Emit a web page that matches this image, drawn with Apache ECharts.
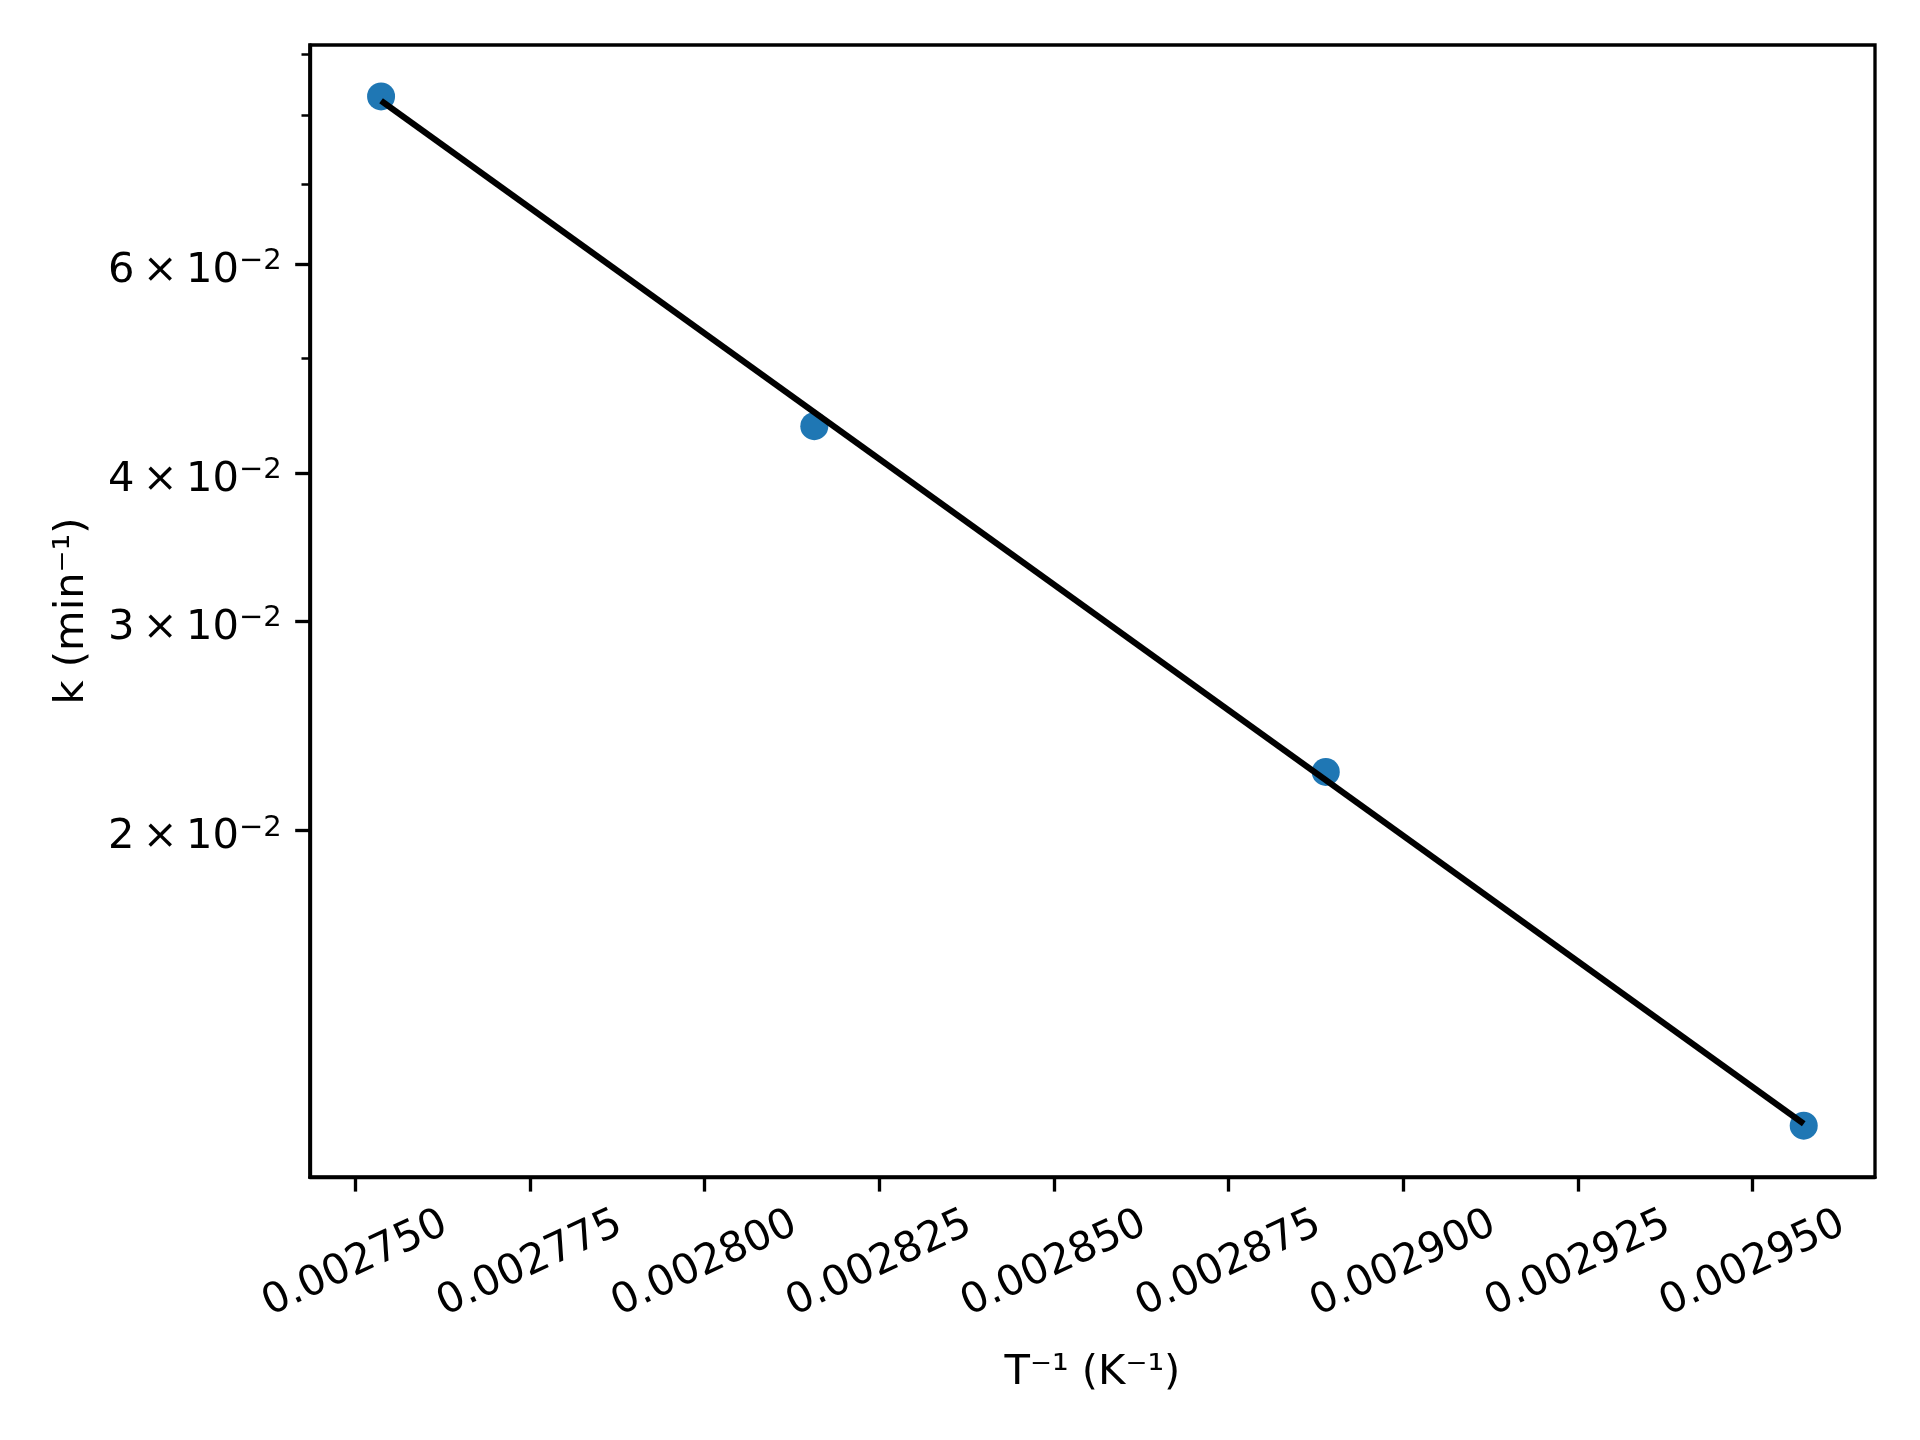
<!DOCTYPE html>
<html>
<head>
<meta charset="utf-8">
<script src="https://cdn.jsdelivr.net/npm/echarts@6.0.0/dist/echarts.min.js"></script>
<style>
html,body{margin:0;padding:0;background:#fff;}
#chart{width:1920px;height:1440px;}
</style>
</head>
<body>
<div id="chart"></div>
<script>
// Data (1/T in K^-1, k in min^-1)
const invT = [0.0027537, 0.0028157, 0.0028889, 0.0029573];
const kVals = [0.0830, 0.0438, 0.02241, 0.01129];
// Fitted line endpoints
const fitInvT = [0.0027537, 0.0029573];
const fitK = [0.0823, 0.01133];
// Axis ticks
const xTicks = [0.00275, 0.002775, 0.0028, 0.002825, 0.00285, 0.002875, 0.0029, 0.002925, 0.00295];
const yMajorTicks = [0.02, 0.03, 0.04, 0.06];
const yMinorTicks = [0.05, 0.07, 0.08, 0.09];
const xRange = [0.0027435, 0.0029675];
const yRange = [0.01022, 0.0917];

const FONT = 'DejaVu Sans';
const FS = 41.67;
const LW = 3.33;
const THIN = '\u2009';

function sciLabel(v) {
  const e = Math.floor(Math.log10(v) + 1e-9);
  const m = Math.round(v / Math.pow(10, e));
  return '{m|' + m + THIN + '×' + THIN + '10}{s|−' + Math.abs(e) + '}';
}

const chart = echarts.init(document.getElementById('chart'), null, {renderer: 'canvas'});
chart.setOption({
  animation: false,
  backgroundColor: '#ffffff',
  textStyle: {fontFamily: FONT, color: '#000'},
  grid: {
    left: 309.8, right: 45, top: 45, bottom: 263,
    show: true, borderColor: '#000', borderWidth: LW, backgroundColor: 'transparent',
    containLabel: false, outerBoundsMode: 'none'
  },
  xAxis: {
    type: 'value',
    min: xRange[0], max: xRange[1],
    splitLine: {show: false},
    axisLine: {show: true, onZero: false, lineStyle: {color: '#000', width: LW}},
    axisTick: {show: true, customValues: xTicks, length: 14.6, lineStyle: {color: '#000', width: LW}},
    axisLabel: {
      customValues: xTicks, rotate: 25, align: 'center', verticalAlign: 'middle',
      margin: 87, fontFamily: FONT, fontSize: FS, color: '#000',
      formatter: v => Number(v).toFixed(6)
    },
    name: 'T⁻¹ (K⁻¹)', nameLocation: 'middle', nameGap: 175, nameMoveOverlap: false,
    nameTextStyle: {fontFamily: FONT, fontSize: FS, color: '#000'}
  },
  yAxis: [{
    type: 'log', logBase: 10,
    min: yRange[0], max: yRange[1],
    splitLine: {show: false},
    axisLine: {show: true, onZero: false, lineStyle: {color: '#000', width: LW}},
    axisTick: {show: true, customValues: yMajorTicks, length: 14.6, lineStyle: {color: '#000', width: LW}},
    minorTick: {show: false},
    axisLabel: {
      customValues: yMajorTicks, margin: 28, color: '#000',
      padding: [14, 0, 0, 0],
      formatter: v => sciLabel(v),
      rich: {
        m: {fontFamily: FONT, fontSize: FS, lineHeight: 48, color: '#000'},
        s: {fontFamily: FONT, fontSize: 29, lineHeight: 28, verticalAlign: 'top', color: '#000'}
      }
    },
    name: 'k (min⁻¹)', nameLocation: 'middle', nameGap: 217, nameRotate: 90, nameMoveOverlap: false,
    nameTextStyle: {fontFamily: FONT, fontSize: FS, color: '#000'}
  }, {
    type: 'log', logBase: 10, position: 'left',
    min: yRange[0], max: yRange[1],
    splitLine: {show: false},
    axisLine: {show: false},
    axisTick: {show: true, customValues: yMinorTicks, length: 8.3, lineStyle: {color: '#000', width: 2.5}},
    axisLabel: {show: false}
  }],
  series: [{
    type: 'scatter',
    yAxisIndex: 0,
    data: invT.map((x, i) => [x, kVals[i]]),
    symbol: 'circle', symbolSize: 28,
    itemStyle: {color: '#1f77b4', opacity: 1},
    z: 2
  }, {
    type: 'line',
    yAxisIndex: 0,
    data: fitInvT.map((x, i) => [x, fitK[i]]),
    showSymbol: false, symbol: 'none',
    lineStyle: {color: '#000', width: 6.25},
    z: 3
  }]
});
</script>
</body>
</html>
